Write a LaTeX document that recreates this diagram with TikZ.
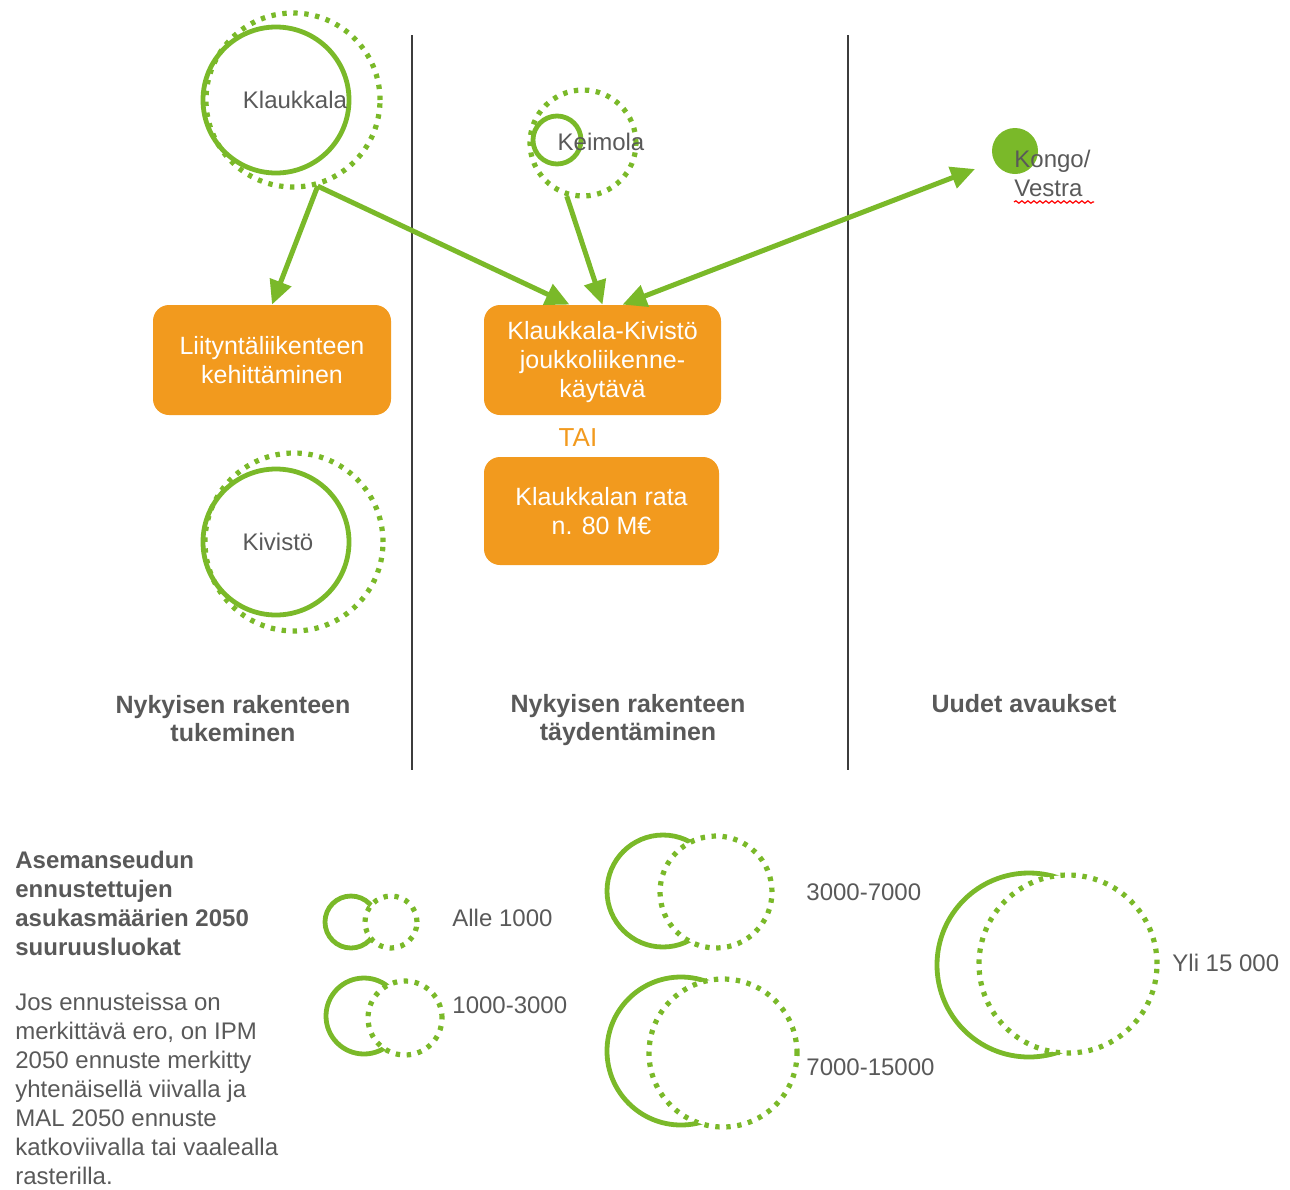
\documentclass[tikz,border=0pt]{standalone}
\usepackage{fontspec}
\setmainfont{Liberation Sans}
\usetikzlibrary{arrows.meta,decorations.pathmorphing,calc}
\definecolor{leafgreen}{RGB}{122,185,41}
\definecolor{boxorange}{RGB}{242,154,30}
\definecolor{txtgray}{RGB}{89,89,89}
\definecolor{rulegray}{RGB}{60,60,60}
\begin{document}
\begin{tikzpicture}[x=0.5pt,y=-0.5pt,
  solidring/.style={circle,draw=leafgreen,line width=2.4pt,inner sep=0pt,minimum size=#1pt},
  dotring/.style={circle,draw=leafgreen,line width=2.6pt,inner sep=0pt,
    dash pattern=on 2.2pt off 3.3pt,minimum size=#1pt},
  stationlabel/.style={text=txtgray,font=\fontsize{12}{14.5}\selectfont,inner sep=0pt},
  orangebox/.style={fill=boxorange,rounded corners=8pt,text=white,align=center,
    font=\fontsize{12.5}{14.5}\selectfont,inner sep=0pt},
  heading/.style={text=txtgray,font=\fontsize{12.5}{14}\selectfont\bfseries,align=center,inner sep=0pt},
  legendtext/.style={text=txtgray,align=left,inner sep=0pt,anchor=north west},
  rangelabel/.style={text=txtgray,font=\fontsize{12}{14.5}\selectfont,inner sep=0pt,anchor=west},
  arrowline/.style={draw=leafgreen,line width=2.5pt,-{Triangle[length=12pt,width=11pt]}},
  rule/.style={draw=rulegray,line width=0.7pt}]
\useasboundingbox (0,0) rectangle (1290,1189);

% column separators
\draw[rule] (412,35) -- (412,770);
\draw[rule] (848,35) -- (848,770);

% stations
\node[dotring=87] (kld) at (293,100) {};
\node[solidring=73] (kls) at (276,100) {};
\node[stationlabel] (kllbl) at (295,100) {Klaukkala};

\node[dotring=53] (kmd) at (583,143) {};
\node[solidring=24] (kms) at (557,140) {};
\node[stationlabel] (kmlbl) at (601,142) {Keimola};

\node[circle,fill=leafgreen,inner sep=0pt,minimum size=23pt] (kongo) at (1015,151) {};
\node[stationlabel,anchor=west,align=left] (kongolbl) at (1014,173) {Kongo/\\Vestra};
\draw[red,line width=0.6pt,decorate,decoration={snake,amplitude=0.6pt,segment length=3pt}]
  (1014,202) -- (1094,202);
\coordinate (kongoin) at (975,169);

\node[dotring=89] (kvd) at (294,542) {};
\node[solidring=73] (kvs) at (276,542) {};
\node[stationlabel] (kvlbl) at (278,542) {Kivistö};

% measures
\node[orangebox,minimum width=119pt,minimum height=55pt] (box1) at (272,360)
  {Liityntäliikenteen\\kehittäminen};
\node[orangebox,minimum width=118.5pt,minimum height=55pt] (box2) at (602.5,360) {};
\node[text=white,align=center,font=\fontsize{12.5}{14.5}\selectfont,inner sep=0pt]
  (box2txt) at (602.5,362) {Klaukkala-Kivistö\\joukkoliikenne-\\käytävä};
\node[text=boxorange,font=\fontsize{13}{15}\selectfont,inner sep=0pt] (tai) at (578,438) {TAI};
\node[orangebox,minimum width=117.5pt,minimum height=54pt] (box3) at (601.5,511)
  {Klaukkalan rata\\n. 80 M€};

% connections
\draw[arrowline] (kld.-74) -- (box1.north);
\draw[arrowline] (kld.-74) -- ($(box2.north)+(-33,0)$);
\draw[arrowline] (kmd.-107) -- (box2.north);
\draw[arrowline,{Triangle[length=12pt,width=11pt]}-{Triangle[length=12pt,width=11pt]}]
  ($(box2.north)+(20,0)$) -- (kongoin);

% column headings
\node[heading] (h1) at (233,719) {Nykyisen rakenteen\\tukeminen};
\node[heading] (h2) at (628,720) {Nykyisen rakenteen\\täydentäminen};
\node[heading] (h3) at (1024,704) {Uudet avaukset};

% legend text
\node[legendtext,font=\fontsize{12}{14.5}\selectfont\bfseries] (legtitle) at (15,851)
  {Asemanseudun\\ennustettujen\\asukasmäärien 2050\\suuruusluokat};
\node[legendtext,font=\fontsize{12}{14.5}\selectfont] (legnote) at (15,993)
  {Jos ennusteissa on\\merkittävä ero, on IPM\\2050 ennuste merkitty\\yhtenäisellä viivalla ja\\MAL 2050 ennuste\\katkoviivalla tai vaalealla\\rasterilla.};

% legend symbols
\node[solidring=26] (l1s) at (351,922) {};
\node[dotring=26,fill=white] (l1d) at (391,922) {};
\node[rangelabel] (l1t) at (452,918) {Alle 1000};

\node[solidring=38] (l2s) at (364,1016) {};
\node[dotring=37,fill=white] (l2d) at (405,1018) {};
\node[rangelabel] (l2t) at (452,1005) {1000-3000};

\node[solidring=56] (l3s) at (663,891) {};
\node[dotring=56,fill=white] (l3d) at (716,892) {};
\node[rangelabel] (l3t) at (806,892) {3000-7000};

\node[solidring=74] (l4s) at (681,1051) {};
\node[dotring=74,fill=white] (l4d) at (723,1053) {};
\node[rangelabel] (l4t) at (806,1067) {7000-15000};

\node[solidring=92] (l5s) at (1029,965) {};
\node[dotring=89,fill=white] (l5d) at (1068,964) {};
\node[rangelabel] (l5t) at (1172,963) {Yli 15 000};
\end{tikzpicture}
\end{document}
